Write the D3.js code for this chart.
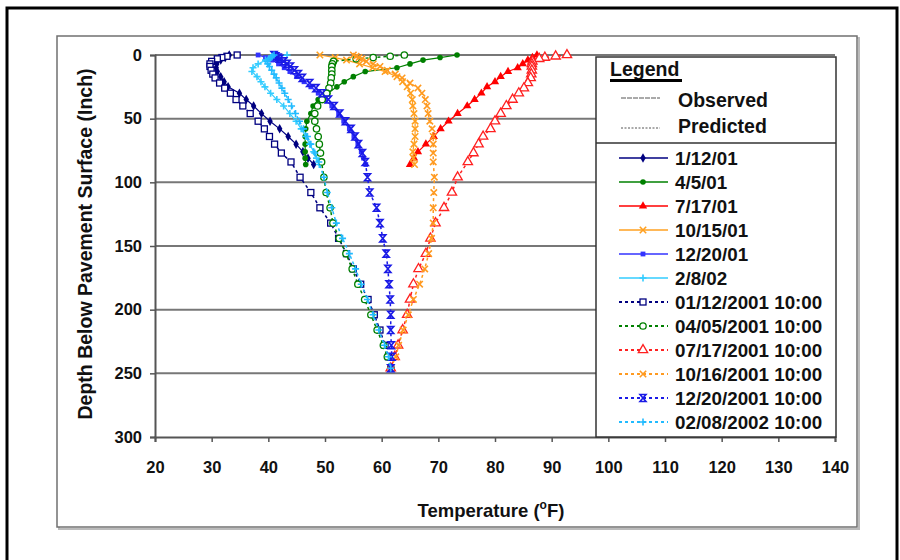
<!DOCTYPE html>
<html><head><meta charset="utf-8">
<script src="https://cdn.jsdelivr.net/npm/d3@7"></script>
<style>
html,body{margin:0;padding:0;background:#fff;}
svg{display:block;font-family:"Liberation Sans",Arial,sans-serif;}
</style></head>
<body>
<svg id="chart" width="900" height="560"></svg>
<script>
// ---------------- DATA ----------------
const xTicks = [20,30,40,50,60,70,80,90,100,110,120,130,140];
const yTicks = [0,50,100,150,200,250,300];

const obsDepth = [0,2,4,7,10,13,17,21,25,30,35,40,46,52,58,64,70,76,81,86];
const obsLabels = ["1/12/01","4/5/01","7/17/01","10/15/01","12/20/01","2/8/02"];
const obs_0112 = [33.1,32.4,31.6,30.9,30.8,31.0,31.6,32.2,32.9,34.9,36.1,37.4,38.8,40.3,42.0,43.5,44.9,46.1,47.0,48.0];
const obs_0405 = [73.3,70.3,67.3,65.0,62.7,57.1,55.0,53.4,52.1,50.5,48.8,47.9,47.5,46.8,46.6,46.5,46.5,46.5,46.5,46.6];
const obs_0717 = [87.4,86.6,85.8,84.9,84.0,82.3,81.0,80.0,78.6,77.6,76.4,75.1,73.4,71.8,70.4,69.2,67.8,66.4,65.7,65.0];
const obs_1015 = [49.1,51.8,53.8,56.1,58.4,60.6,62.7,63.7,64.5,65.1,65.4,65.5,65.7,65.9,65.9,65.9,65.7,65.5,65.6,65.8];
const obs_1220 = [38.2,39.5,40.6,41.8,42.8,43.8,45.0,46.3,47.5,48.8,50.0,51.2,52.4,53.3,54.3,55.1,55.8,56.4,56.8,57.2];
const obs_0208 = [43.3,40.6,39.5,38.2,37.3,37.1,38.0,38.7,39.4,40.4,41.5,42.7,43.8,44.9,45.8,46.6,47.3,48.0,48.5,49.0];

const predDepth = [0,1,2,3,5,7,9,12,15,18,22,26,30,35,40,46,52,58,64,70,77,84,96,108,120,132,144,156,168,180,192,204,216,228,237,246];
const predLabels = ["01/12/2001 10:00","04/05/2001 10:00","07/17/2001 10:00","10/16/2001 10:00","12/20/2001 10:00","02/08/2002 10:00"];
const pred_0112 = [34.5,32.7,31.8,31.0,30.0,29.7,29.7,29.9,30.2,30.6,31.4,32.3,33.3,34.3,35.5,36.8,38.2,39.3,40.2,41.1,42.3,44.0,45.6,47.5,49.1,51.0,52.4,53.8,55.0,56.3,57.6,58.7,59.7,60.6,61.2,61.6];
const pred_0405 = [64.0,61.5,58.5,55.5,51.5,51.3,51.2,51.2,51.2,51.1,51.0,50.7,50.3,49.5,48.7,48.2,48.2,48.5,48.8,49.0,49.2,49.4,49.8,50.2,50.9,51.4,52.5,53.7,54.8,55.8,57.0,58.1,59.2,60.3,61.0,61.6];
const pred_0717 = [92.7,90.7,88.8,87.8,86.6,86.5,86.5,86.5,86.4,86.3,85.8,85.1,84.2,83.1,82.0,81.0,80.0,79.2,77.9,77.1,76.2,75.2,73.4,72.4,71.0,69.5,68.6,67.8,66.5,65.6,65.0,64.5,63.7,62.9,62.3,61.6];
const pred_1016 = [55.0,55.5,56.0,56.5,57.3,58.5,59.7,61.0,62.4,63.6,65.0,66.4,67.1,67.7,68.0,68.2,68.5,68.9,69.1,69.1,69.1,69.1,69.3,69.2,69.1,69.1,68.8,68.3,67.6,66.7,65.6,64.7,63.8,63.0,62.5,61.6];
const pred_1220 = [41.0,41.3,41.7,42.0,42.7,43.3,43.9,44.6,45.3,46.0,47.3,48.4,49.5,50.6,51.6,52.6,53.6,54.6,55.3,55.9,56.6,57.1,57.5,57.9,59.1,59.7,60.2,60.8,61.1,61.3,61.5,61.6,61.6,61.7,61.8,61.6];
const pred_0208 = [41.0,40.7,40.4,40.1,39.8,39.9,40.2,40.6,41.0,41.4,41.9,42.4,42.9,43.5,44.1,44.8,45.5,46.2,46.9,47.5,48.2,48.9,49.8,50.4,51.2,52.0,53.1,54.3,55.4,56.4,57.5,58.5,59.5,60.5,61.2,61.6];

// ---------------- STYLE ----------------
const obsSeries = [obs_0112,obs_0405,obs_0717,obs_1015,obs_1220,obs_0208];
const predSeries = [pred_0112,pred_0405,pred_0717,pred_1016,pred_1220,pred_0208];
const obsColors = ["#000080","#008000","#ff0000","#ffa020","#3333ff","#33ccff"];
const predColors = ["#000080","#008000","#ff2020","#ff9a20","#1a1ae6","#22bbff"];
const obsMarkers = ["diamond","circle","triangle","x","square","plus"];
const predMarkers = ["squareOpen","circleOpen","triangleOpen","x","bowtie","plus"];

const svg = d3.select("#chart");
const font = "'Liberation Sans',Arial,sans-serif";

// outer frame
svg.append("rect").attr("x",7).attr("y",8).attr("width",890).attr("height",570)
  .attr("fill","#fff").attr("stroke","#000").attr("stroke-width",3);
// chart area box with slight shadow
svg.append("rect").attr("x",59).attr("y",38).attr("width",800).attr("height",491)
  .attr("fill","none").attr("stroke","#bbb").attr("stroke-width",2);
svg.append("rect").attr("x",57).attr("y",36).attr("width",800).attr("height",491)
  .attr("fill","#fff").attr("stroke","#707070").attr("stroke-width",1.5);

const x = d3.scaleLinear().domain([20,140]).range([155,835]);
const y = d3.scaleLinear().domain([0,300]).range([55,437]);

// gridlines
svg.append("g").selectAll("line").data(yTicks.filter(d=>d<300)).join("line")
  .attr("x1",x(20)).attr("x2",x(140)).attr("y1",d=>y(d)).attr("y2",d=>y(d))
  .attr("stroke","#777").attr("stroke-width",2);

// axes
const gy = svg.append("g").attr("transform",`translate(${x(20)},0)`)
  .call(d3.axisLeft(y).tickValues(yTicks).tickSize(5).tickPadding(8).tickFormat(d3.format("d")));
const gx = svg.append("g").attr("transform",`translate(0,${y(300)})`)
  .call(d3.axisBottom(x).tickValues(xTicks).tickSize(5).tickPadding(19).tickFormat(d3.format("d")));
[gx,gy].forEach(g=>{
  g.select(".domain").attr("stroke","#555").attr("stroke-width",2);
  g.selectAll(".tick line").attr("stroke","#555").attr("stroke-width",1.5);
  g.selectAll(".tick text").attr("font-family",font)
    .attr("font-size",16.5).attr("font-weight","bold").attr("fill","#111");
});

// marker drawing
function marker(sel, type, color){
  const sym = (t,s)=>d3.symbol().type(t).size(s)();
  switch(type){
    case "diamond": sel.append("path").attr("d",sym(d3.symbolDiamond,26)).attr("fill",color); break;
    case "circle": sel.append("circle").attr("r",2.8).attr("fill",color); break;
    case "triangle": sel.append("path").attr("d",sym(d3.symbolTriangle,30)).attr("fill",color); break;
    case "square": sel.append("rect").attr("x",-2.4).attr("y",-2.4).attr("width",4.8).attr("height",4.8).attr("fill",color); break;
    case "x": sel.append("path").attr("d","M-3.2,-3.2L3.2,3.2M-3.2,3.2L3.2,-3.2").attr("stroke",color).attr("stroke-width",1.6).attr("fill","none"); break;
    case "plus": sel.append("path").attr("d","M-3.5,0H3.5M0,-3.5V3.5").attr("stroke",color).attr("stroke-width",1.6).attr("fill","none"); break;
    case "squareOpen": sel.append("rect").attr("x",-3).attr("y",-3).attr("width",6).attr("height",6).attr("fill","#fff").attr("stroke",color).attr("stroke-width",1.3); break;
    case "circleOpen": sel.append("circle").attr("r",3.2).attr("fill","#fff").attr("stroke",color).attr("stroke-width",1.3); break;
    case "triangleOpen": sel.append("path").attr("d",sym(d3.symbolTriangle,38)).attr("fill","#fff").attr("stroke",color).attr("stroke-width",1.3); break;
    case "bowtie": sel.append("path").attr("d","M-3,-3.5H3L-3,3.5H3Z").attr("fill","none").attr("stroke",color).attr("stroke-width",1.6); break;
  }
}

const line = d3.line().x(d=>x(d[1])).y(d=>y(d[0]));
const plot = svg.append("g");

function drawSeries(depths, temps, color, mtype, dashed){
  const pts = depths.map((d,i)=>[d,temps[i]]);
  plot.append("path").datum(pts).attr("d",line).attr("fill","none")
    .attr("stroke",color).attr("stroke-width",dashed?1.5:1.2)
    .attr("stroke-dasharray",dashed?"3,3":null);
  pts.forEach(p=>{
    const g = plot.append("g").attr("transform",`translate(${x(p[1])},${y(p[0])})`);
    marker(g,mtype,color);
  });
}
obsSeries.forEach((s,i)=>drawSeries(obsDepth,s,obsColors[i],obsMarkers[i],false));
predSeries.forEach((s,i)=>drawSeries(predDepth,s,predColors[i],predMarkers[i],true));

// ---------------- LEGEND ----------------
const lg = svg.append("g");
lg.append("rect").attr("x",596).attr("y",57).attr("width",240).attr("height",380)
  .attr("fill","#fff").attr("stroke","#333").attr("stroke-width",1.5);
lg.append("line").attr("x1",596).attr("x2",836).attr("y1",143).attr("y2",143)
  .attr("stroke","#333").attr("stroke-width",1.5);
lg.append("text").attr("x",610).attr("y",76).text("Legend")
  .attr("font-family",font).attr("font-size",19.5).attr("font-weight","bold").attr("fill","#111");
lg.append("line").attr("x1",610).attr("x2",682).attr("y1",80.5).attr("y2",80.5)
  .attr("stroke","#000").attr("stroke-width",3);
lg.append("line").attr("x1",621).attr("x2",660).attr("y1",98).attr("y2",98)
  .attr("stroke","#555").attr("stroke-width",1).attr("stroke-dasharray","5,1");
lg.append("text").attr("x",678).attr("y",107).text("Observed")
  .attr("font-family",font).attr("font-size",19.5).attr("font-weight","bold").attr("fill","#111");
lg.append("line").attr("x1",621).attr("x2",660).attr("y1",128).attr("y2",128)
  .attr("stroke","#555").attr("stroke-width",1).attr("stroke-dasharray","2,1.5");
lg.append("text").attr("x",678).attr("y",133).text("Predicted")
  .attr("font-family",font).attr("font-size",19.5).attr("font-weight","bold").attr("fill","#111");

const legItems = obsLabels.map((l,i)=>({label:l,color:obsColors[i],m:obsMarkers[i],dashed:false}))
  .concat(predLabels.map((l,i)=>({label:l,color:predColors[i],m:predMarkers[i],dashed:true})));
legItems.forEach((it,i)=>{
  const cy = 158 + i*24;
  lg.append("line").attr("x1",619).attr("x2",668).attr("y1",cy).attr("y2",cy)
    .attr("stroke",it.color).attr("stroke-width",it.dashed?2:1.3)
    .attr("stroke-dasharray",it.dashed?"3,3":null);
  const g = lg.append("g").attr("transform",`translate(643,${cy})`);
  marker(g,it.m,it.color);
  lg.append("text").attr("x",675).attr("y",cy+7).text(it.label)
    .attr("font-family",font).attr("font-size",18.8).attr("font-weight","bold").attr("fill","#111");
});

// ---------------- AXIS TITLES ----------------
const xt = svg.append("text").attr("x",491).attr("y",517).attr("text-anchor","middle")
  .attr("font-family",font).attr("font-size",18.5).attr("font-weight","bold").attr("fill","#111");
xt.append("tspan").text("Temperature (");
xt.append("tspan").text("o").attr("font-size",12).attr("dy",-8);
xt.append("tspan").text("F)").attr("dy",8);

svg.append("text").attr("transform","translate(92,244) rotate(-90)").attr("text-anchor","middle")
  .attr("font-family",font).attr("font-size",19.5).attr("font-weight","bold").attr("fill","#111")
  .text("Depth Below Pavement Surface (Inch)");
</script>
</body></html>
